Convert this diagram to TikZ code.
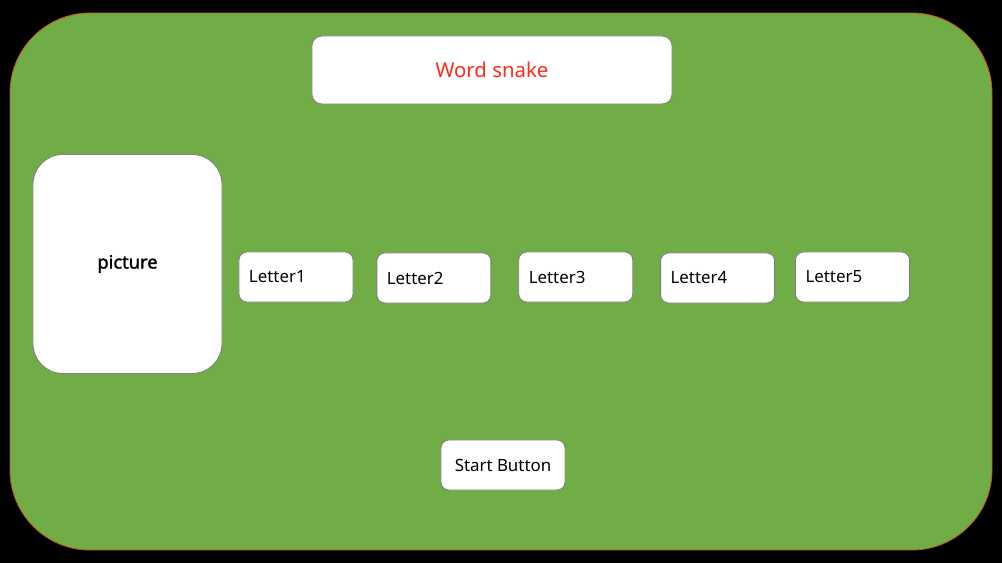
\documentclass[tikz,border=0pt]{standalone}
\usepackage{fontspec}
\setmainfont{Noto Sans}[AutoFakeBold=1.6]
\usetikzlibrary{positioning}
\definecolor{boardgreen}{HTML}{70AD47}
\definecolor{boardedge}{HTML}{C55A11}
\definecolor{boxedge}{HTML}{7F7F7F}
\definecolor{titlered}{HTML}{FF2A1A}
\tikzstyle{panel} = [
  rectangle, draw=boxedge, fill=white, line width=0.6pt,
  text centered, align=center
]
\tikzstyle{letterbox} = [panel, rounded corners=0.2cm,
  minimum width=2.85cm, minimum height=1.25cm,
  text width=2.35cm, align=left, font=\fontsize{12}{14}\selectfont]
\begin{document}
\begin{tikzpicture}[x=0.025cm, y=-0.025cm]

% Background and board
\fill[black] (0,0) rectangle (1002,563);
\draw[boardedge, fill=boardgreen, line width=0.6pt, rounded corners=2cm] (10,13) rectangle (992,550);

% Nodes
\node (title) [panel, rounded corners=0.25cm, minimum width=9cm, minimum height=1.7cm,
  text=titlered, font=\fontsize{14.5}{17}\selectfont] at (492,70) {Word snake};
\node (picture) [panel, rounded corners=0.75cm, minimum width=4.725cm, minimum height=5.475cm,
  font=\bfseries\fontsize{13}{15}\selectfont] at (127.5,264) {picture};
\node (letter1) [letterbox] at (296,277) {Letter1};
\node (letter2) [letterbox, right=0.575cm of letter1, yshift=-0.025cm] {Letter2};
\node (letter3) [letterbox, right=0.675cm of letter2, yshift=0.025cm] {Letter3};
\node (letter4) [letterbox, right=0.675cm of letter3, yshift=-0.025cm] {Letter4};
\node (letter5) [letterbox, right=0.5cm of letter4, yshift=0.025cm] {Letter5};
\node (start) [panel, rounded corners=0.2cm, minimum width=3.1cm, minimum height=1.25cm,
  font=\fontsize{12}{14}\selectfont] at (503,465) {Start Button};

\end{tikzpicture}
\end{document}
